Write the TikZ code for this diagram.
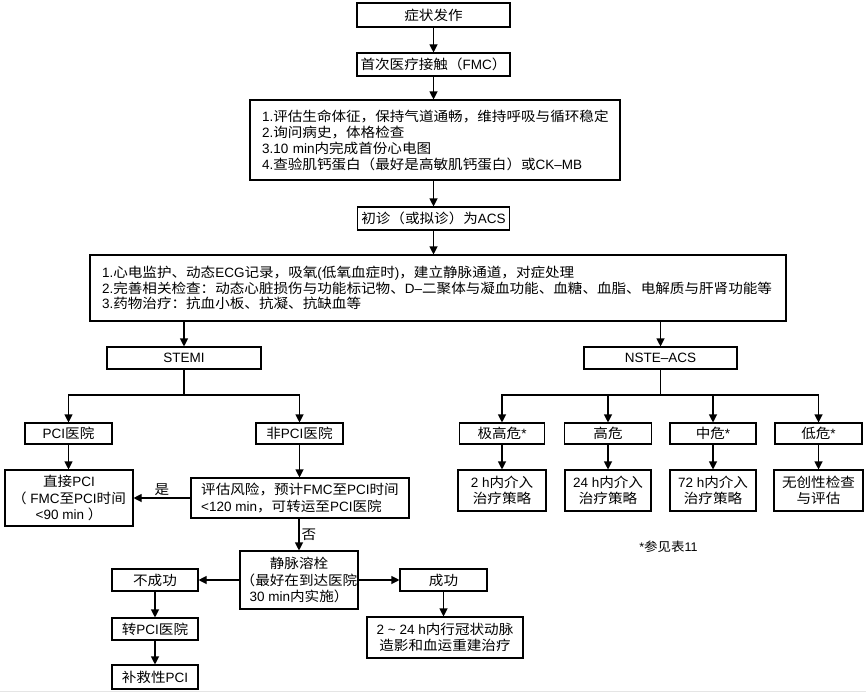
\documentclass[tikz,border=0pt]{standalone}
\usepackage{fontspec}
\setmainfont{Liberation Sans}
\newfontfamily\cjkfont{Noto Sans CJK SC}[FakeStretch=1.08]
\XeTeXinterchartokenstate=1
\newXeTeXintercharclass\CJKcls
\makeatletter
\def\setcjkrange#1#2{\count@=#1\relax\loop\XeTeXcharclass\count@=\CJKcls\ifnum\count@<#2\relax\advance\count@ by 1\repeat}
\setcjkrange{"3000}{"303F}
\setcjkrange{"4E00}{"9FFF}
\setcjkrange{"FF00}{"FFEF}
\makeatother
\XeTeXinterchartoks 0 \CJKcls = {\cjkfont}
\XeTeXinterchartoks 4095 \CJKcls = {\cjkfont}
\XeTeXinterchartoks \CJKcls 0 = {\rmfamily}
\XeTeXinterchartoks \CJKcls 4095 = {\rmfamily}
\usetikzlibrary{arrows.meta}
\tikzset{
  box/.style={draw, line width=1.1pt, inner sep=0pt, align=center,
    font=\fontsize{13.5}{16.5}\selectfont},
  bigbox/.style={draw, line width=1.1pt, inner ysep=0pt, inner xsep=12pt, align=left},
  arr/.style={line width=1.1pt, -{Triangle[length=8pt,width=8pt]}},
  ln/.style={line width=1.1pt},
  lbl/.style={font=\fontsize{13.5}{16}\selectfont, inner sep=2pt}
}
\begin{document}
\begin{tikzpicture}[x=1pt,y=-1pt]
\useasboundingbox (0,0) rectangle (866,693);
\draw[gray!20, line width=1pt] (0,691.5) -- (866,691.5);

\node[box, minimum width=153, minimum height=24] (s1) at (433.5,15) {症状发作};
\node[box, minimum width=153, minimum height=23] (s2) at (433.5,64.5) {首次医疗接触（FMC）};
\node[bigbox, text width=346pt, minimum height=80, font=\fontsize{13.5}{16}\selectfont] (s3) at (435,140)
  {1.评估生命体征，保持气道通畅，维持呼吸与循环稳定\\2.询问病史，体格检查\\3.10 min内完成首份心电图\\4.查验肌钙蛋白（最好是高敏肌钙蛋白）或CK–MB};
\node[box, minimum width=152, minimum height=23] (s4) at (433.5,218.5) {初诊（或拟诊）为ACS};
\node[bigbox, text width=672pt, minimum height=66, font=\fontsize{13.5}{15.5}\selectfont] (s5) at (438,288)
  {1.心电监护、动态ECG记录，吸氧(低氧血症时)，建立静脉通道，对症处理\\2.完善相关检查：动态心脏损伤与功能标记物、D–二聚体与凝血功能、血糖、血脂、电解质与肝肾功能等\\3.药物治疗：抗血小板、抗凝、抗缺血等};

\node[box, minimum width=154, minimum height=22] (stemi) at (184,358) {STEMI};
\node[box, minimum width=153, minimum height=22] (nste) at (660.5,358) {NSTE–ACS};

\node[box, minimum width=87, minimum height=21] (pcih) at (68.5,433.5) {PCI医院};
\node[box, minimum width=87, minimum height=21] (npcih) at (299.5,433.5) {非PCI医院};
\node[box, minimum width=128, minimum height=56] (direct) at (69,498) {直接PCI\\（ FMC至PCI时间\\<90 min ）};
\node[box, minimum width=218, minimum height=40, align=left] (risk) at (300,498) {评估风险，预计FMC至PCI时间\\<120 min，可转运至PCI医院};
\node[box, minimum width=118, minimum height=58] (lysis) at (299,580) {静脉溶栓\\（最好在到达医院\\30 min内实施）};
\node[box, minimum width=86, minimum height=22] (fail) at (155,580) {不成功};
\node[box, minimum width=87, minimum height=22] (succ) at (443.5,580) {成功};
\node[box, minimum width=86, minimum height=22] (trans) at (155,629) {转PCI医院};
\node[box, minimum width=86, minimum height=24] (rescue) at (155,677) {补救性PCI};
\node[box, minimum width=156, minimum height=41] (late) at (445,637.5) {2 \string~ 24 h内行冠状动脉\\造影和血运重建治疗};

\node[box, minimum width=85, minimum height=21] (r1) at (502,433.5) {极高危*};
\node[box, minimum width=87, minimum height=21] (r2) at (608,433.5) {高危};
\node[box, minimum width=86, minimum height=21] (r3) at (713,433.5) {中危*};
\node[box, minimum width=87, minimum height=21] (r4) at (818.5,433.5) {低危*};
\node[box, minimum width=88, minimum height=41] (t1) at (502,490.5) {2 h内介入\\治疗策略};
\node[box, minimum width=86, minimum height=41] (t2) at (608,490.5) {24 h内介入\\治疗策略};
\node[box, minimum width=86, minimum height=41] (t3) at (713,490.5) {72 h内介入\\治疗策略};
\node[box, minimum width=89, minimum height=41] (t4) at (818.5,490.5) {无创性检查\\与评估};

\node[font=\fontsize{12.5}{14}\selectfont, inner sep=0pt] (note) at (668.5,547) {*参见表11};

% connectors
\draw[arr] (s1) -- (s2);
\draw[arr] (s2) -- (s2.south |- s3.north);
\draw[arr] (s3.south -| s4.south) -- (s4);
\draw[arr] (s4.south) -- (s4.south |- s5.north);
\draw[arr] (stemi.north |- s5.south) -- (stemi);
\draw[arr] (nste.north |- s5.south) -- (nste);

\coordinate (sj) at (184,395);
\draw[ln] (stemi) -- (sj);
\draw[arr] (sj) -| (pcih);
\draw[arr] (sj) -| (npcih);
\draw[arr] (pcih) -- (pcih.south |- direct.north);
\draw[arr] (npcih) -- (npcih.south |- risk.north);
\draw[arr] (risk) -- node[lbl, above] {是} (direct);
\draw[arr] (lysis.north |- risk.south) -- node[lbl, right] {否} (lysis);
\draw[arr] (lysis) -- (fail);
\draw[arr] (lysis) -- (succ);
\draw[arr] (fail) -- (trans);
\draw[arr] (trans) -- (rescue);
\draw[arr] (succ.south) -- (succ.south |- late.north);

\coordinate (nj) at (660.5,395);
\draw[ln] (nste) -- (nj);
\draw[arr] (nj) -| (r1);
\draw[arr] (nj) -| (r2);
\draw[arr] (nj) -| (r3);
\draw[arr] (nj) -| (r4);
\draw[arr] (r1) -- (t1);
\draw[arr] (r2) -- (t2);
\draw[arr] (r3) -- (t3);
\draw[arr] (r4) -- (t4);
\end{tikzpicture}
\end{document}
